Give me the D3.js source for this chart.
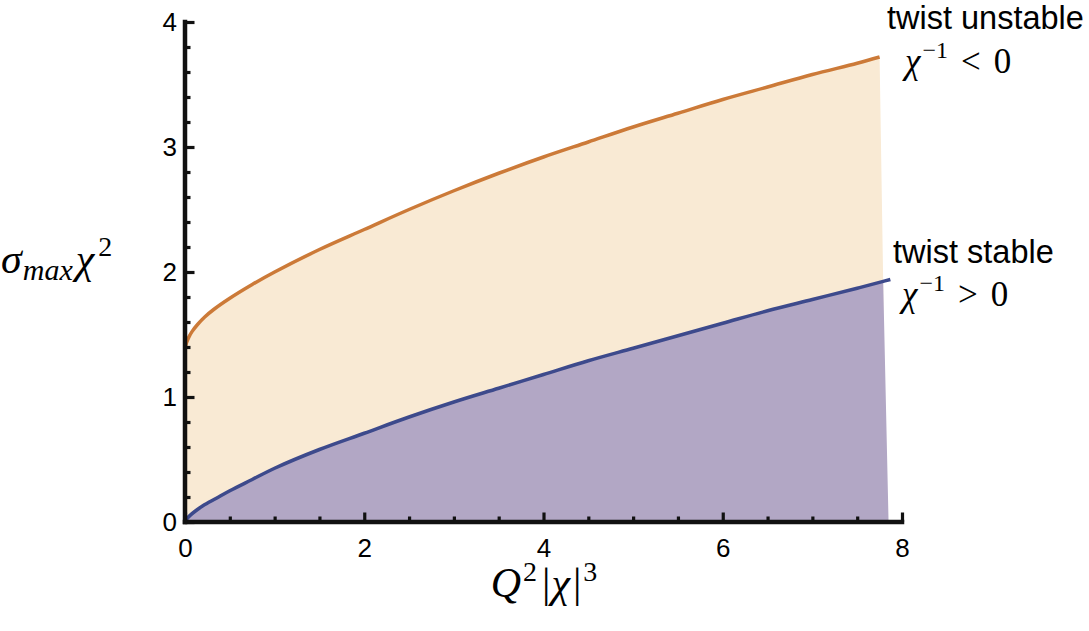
<!DOCTYPE html>
<html>
<head>
<meta charset="utf-8">
<script src="https://cdn.jsdelivr.net/npm/d3@7"></script>
<style>
  html, body { margin: 0; padding: 0; background: #ffffff; }
  svg { display: block; }
</style>
</head>
<body>
<script>
// ---- data ----
const xMajorTicks = [0, 2, 4, 6, 8];
const xMinorTicks = [0.5, 1, 1.5, 2.5, 3, 3.5, 4.5, 5, 5.5, 6.5, 7, 7.5];
const yMajorTicks = [0, 1, 2, 3, 4];
const yMinorTicks = [0.2, 0.4, 0.6, 0.8, 1.2, 1.4, 1.6, 1.8, 2.2, 2.4, 2.6, 2.8, 3.2, 3.4, 3.6, 3.8];

// twist unstable (upper, orange) curve
const unstableX = [0, 0.003, 0.015, 0.04, 0.08, 0.14, 0.22, 0.32, 0.5, 0.75, 1, 1.5, 2, 2.5, 3, 3.5, 4, 4.5, 5, 5.5, 6, 6.5, 7, 7.5, 7.75];
const unstableY = [1.35, 1.385, 1.43, 1.475, 1.525, 1.58, 1.64, 1.70, 1.79, 1.90, 2.00, 2.18, 2.34, 2.50, 2.65, 2.79, 2.92, 3.04, 3.16, 3.27, 3.38, 3.48, 3.58, 3.67, 3.72];

// twist stable (lower, blue) curve
const stableX = [0, 0.02, 0.06, 0.12, 0.2, 0.35, 0.5, 0.75, 1, 1.5, 2, 2.5, 3, 3.5, 4, 4.5, 5, 5.5, 6, 6.5, 7, 7.5, 7.79, 7.87];
const stableY = [0, 0.025, 0.055, 0.09, 0.13, 0.19, 0.25, 0.34, 0.43, 0.58, 0.71, 0.84, 0.96, 1.07, 1.18, 1.29, 1.39, 1.49, 1.59, 1.69, 1.78, 1.87, 1.925, 1.94];

// right edges of the shaded regions
const unstableEdgeX = [7.79, 7.80];
const unstableEdgeY = [1.925, 0];
const stableEdgeX = [7.79, 7.85];
const stableEdgeY = [1.925, 0];

const labels = {
  unstable: "twist unstable",
  stable: "twist stable"
};

// ---- layout ----
const W = 1089, H = 631;
const svg = d3.select("body").append("svg").attr("width", W).attr("height", H);

const x = d3.scaleLinear().domain([0, 8]).range([185, 902]);
const y = d3.scaleLinear().domain([0, 4]).range([522, 22]);

const colors = {
  unstableFill: "#f9ead4",
  stableFill: "#b2a7c5",
  unstableLine: "#cc7a38",
  stableLine: "#3d4a8c",
  axis: "#111111"
};

const sansFont = "'Liberation Sans', Arial, Helvetica, sans-serif";
const serifFont = "'Liberation Serif', 'Times New Roman', serif";

const unstablePts = unstableX.map((d, i) => [d, unstableY[i]]);
const stablePts = stableX.map((d, i) => [d, stableY[i]]);

const line = d3.line()
  .x(d => x(d[0]))
  .y(d => y(d[1]))
  .curve(d3.curveCatmullRom.alpha(0.5));

// fills: curve on top, straight right edge, closed along the x axis
function fillPath(pts, edgeX, edgeY) {
  let p = line(pts);
  edgeX.forEach((ex, i) => { p += `L${x(ex)},${y(edgeY[i])}`; });
  p += `L${x(0)},${y(0)}Z`;
  return p;
}

svg.append("path")
  .attr("d", fillPath(unstablePts, unstableEdgeX, unstableEdgeY))
  .attr("fill", colors.unstableFill);
svg.append("path")
  .attr("d", fillPath(stablePts.filter(p => p[0] <= 7.79), stableEdgeX, stableEdgeY))
  .attr("fill", colors.stableFill);

svg.append("path").datum(unstablePts)
  .attr("d", line).attr("fill", "none")
  .attr("stroke", colors.unstableLine).attr("stroke-width", 3.5);
svg.append("path").datum(stablePts)
  .attr("d", line).attr("fill", "none")
  .attr("stroke", colors.stableLine).attr("stroke-width", 3.5);

// ---- axes ----
function styleAxis(g) {
  g.selectAll(".tick line").attr("stroke", colors.axis).attr("stroke-width", 3.2);
  g.selectAll(".tick text").attr("fill", "#000").style("font-family", sansFont).style("font-size", "26px");
  g.select(".domain").remove();
}

// minor ticks
svg.append("g").attr("transform", `translate(0,${y(0)})`)
  .call(d3.axisBottom(x).tickValues(xMinorTicks).tickSize(-5.5).tickFormat(""))
  .call(styleAxis);
svg.append("g").attr("transform", `translate(${x(0)},0)`)
  .call(d3.axisLeft(y).tickValues(yMinorTicks).tickSize(-5.5).tickFormat(""))
  .call(styleAxis);

// major ticks with labels
svg.append("g").attr("transform", `translate(0,${y(0)})`)
  .call(d3.axisBottom(x).tickValues(xMajorTicks).tickSize(-9.5).tickPadding(17).tickFormat(d3.format("d")))
  .call(styleAxis);
svg.append("g").attr("transform", `translate(${x(0)},0)`)
  .call(d3.axisLeft(y).tickValues(yMajorTicks).tickSize(-9.5).tickPadding(8).tickFormat(d3.format("d")))
  .call(styleAxis);

// axis lines
svg.append("line")
  .attr("x1", x(0)).attr("x2", x(8)).attr("y1", y(0)).attr("y2", y(0))
  .attr("stroke", colors.axis).attr("stroke-width", 4.5).attr("stroke-linecap", "square");
svg.append("line")
  .attr("x1", x(0)).attr("x2", x(0)).attr("y1", y(0)).attr("y2", y(4))
  .attr("stroke", colors.axis).attr("stroke-width", 4.5).attr("stroke-linecap", "square");

// ---- axis titles (math) ----
const xt = svg.append("text")
  .attr("x", 544).attr("y", 597)
  .attr("text-anchor", "middle")
  .style("font-family", serifFont).style("font-size", "42px").attr("fill", "#000");
xt.append("tspan").style("font-style", "italic").text("Q");
xt.append("tspan").attr("dy", -16).attr("dx", 2).style("font-size", "28px").text("2");
xt.append("tspan").attr("dy", 16).attr("dx", 5).text("|");
xt.append("tspan").attr("dx", 1).style("font-style", "italic").text("χ");
xt.append("tspan").attr("dx", 3).text("|");
xt.append("tspan").attr("dy", -16).attr("dx", 2).style("font-size", "28px").text("3");

const yt = svg.append("text")
  .attr("x", 1).attr("y", 273)
  .style("font-family", serifFont).style("font-size", "42px").attr("fill", "#000");
yt.append("tspan").style("font-style", "italic").text("σ");
yt.append("tspan").attr("dy", 7).attr("dx", 1).style("font-size", "30px").style("font-style", "italic").text("max");
yt.append("tspan").attr("dy", -7).attr("dx", 3).style("font-style", "italic").text("χ");
yt.append("tspan").attr("dy", -17).attr("dx", 4).style("font-size", "28px").text("2");

// ---- annotations ----
svg.append("text")
  .attr("x", 887).attr("y", 29)
  .style("font-family", sansFont).style("font-size", "32.5px").attr("fill", "#000")
  .text(labels.unstable);
svg.append("text")
  .attr("x", 893).attr("y", 263)
  .style("font-family", sansFont).style("font-size", "32.5px").attr("fill", "#000")
  .text(labels.stable);

function chiInv(xpos, ypos, rel) {
  const t = svg.append("text")
    .attr("x", xpos).attr("y", ypos)
    .style("font-family", serifFont).style("font-size", "35px").attr("fill", "#000");
  t.append("tspan").style("font-style", "italic").text("χ");
  t.append("tspan").attr("dy", -15).attr("dx", 2).style("font-size", "24px").text("−1");
  t.append("tspan").attr("dy", 15).attr("dx", 13).text(rel);
  t.append("tspan").attr("dx", 13).text("0");
}
chiInv(905, 73, "<");
chiInv(902, 306, ">");
</script>
</body>
</html>
